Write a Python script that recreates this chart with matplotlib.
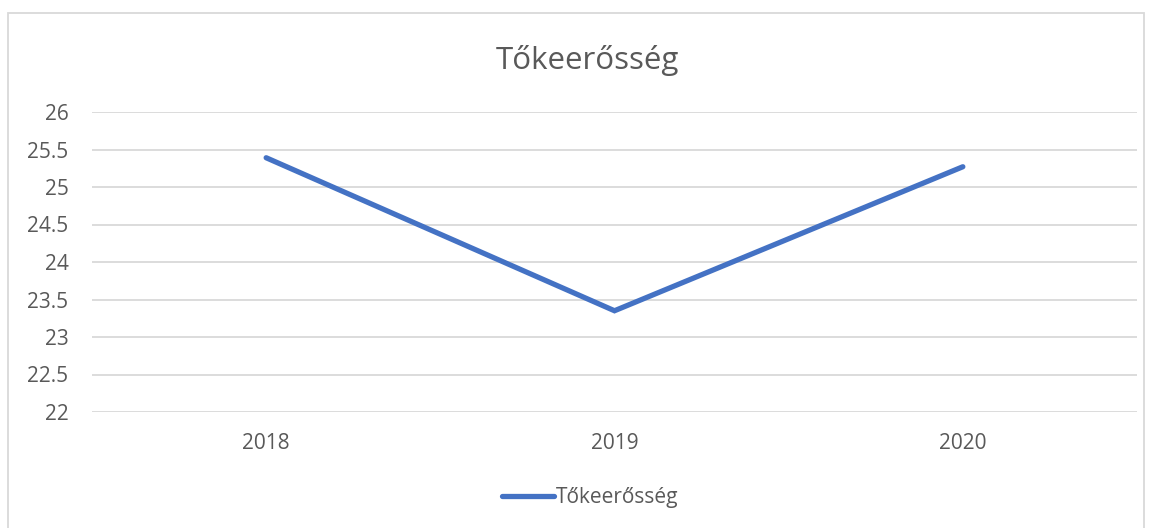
import matplotlib
matplotlib.use("Agg")
import matplotlib.pyplot as plt
from matplotlib.patches import Rectangle

years = ["2018", "2019", "2020"]
values = [25.39, 23.35, 25.27]
series_name = "Tőkeerősség"
title = "Tőkeerősség"
y_ticks = [22, 22.5, 23, 23.5, 24, 24.5, 25, 25.5, 26]
y_tick_labels = ["22", "22.5", "23", "23.5", "24", "24.5", "25", "25.5", "26"]

plt.rcParams['font.family'] = ['Open Sans', 'DejaVu Sans']

W, H = 1153, 528
fig = plt.figure(figsize=(W / 100, H / 100), dpi=100)
fig.patch.set_facecolor("white")

# chart border
fig.add_artist(Rectangle((8 / W, -0.05), (1144 - 8) / W, 1.05 - 13 / H,
                         transform=fig.transFigure, fill=False,
                         edgecolor="#D9D9D9", linewidth=1.3))

left, right = 92 / W, 1137 / W
top, bottom = 1 - 112 / H, 1 - 412 / H
ax = fig.add_axes([left, bottom, right - left, top - bottom])

x = list(range(len(years)))
ax.plot(x, values, color="#4472C4", linewidth=3.8, solid_capstyle="round",
        solid_joinstyle="miter", label=series_name, zorder=3)

ax.set_xlim(-0.5, len(years) - 0.5)
ax.set_ylim(22, 26)
ax.set_yticks(y_ticks)
ax.set_yticklabels(y_tick_labels)
ax.set_xticks(x)
ax.set_xticklabels(years)
ax.grid(axis="y", color="#D9D9D9", linewidth=1.3)
ax.set_axisbelow(True)
for s in ax.spines.values():
    s.set_visible(False)
ax.tick_params(axis="both", length=0, colors="#595959", labelsize=15)
ax.tick_params(axis="y", pad=17)
ax.tick_params(axis="x", pad=15)

fig.text((497 + 678) / 2 / W, 1 - 60 / H, title, ha="center", va="center",
         fontsize=22.5, color="#595959")

leg = fig.legend(loc="center", bbox_to_anchor=(590 / W, 1 - 498 / H),
                 frameon=False, fontsize=15, handlelength=2.5,
                 handletextpad=0.1, labelcolor="#595959")

fig.savefig("out.png", dpi=100, facecolor="white")
